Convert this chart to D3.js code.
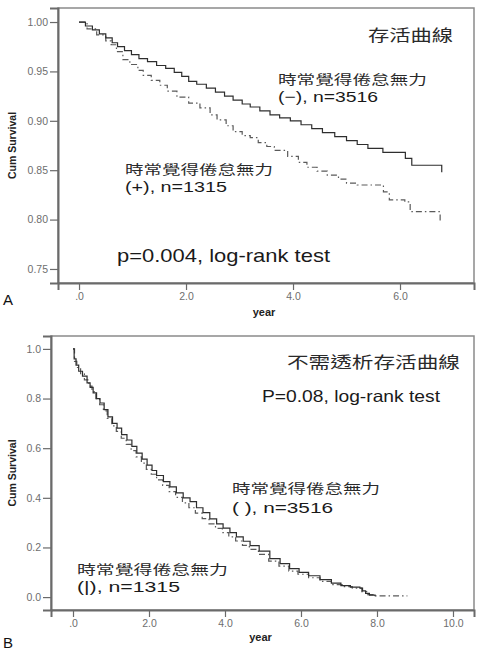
<!DOCTYPE html>
<html>
<head>
<meta charset="utf-8">
<script src="https://cdn.jsdelivr.net/npm/d3@7"></script>
<style>
body{margin:0;background:#fff;}
svg{display:block;}
</style>
</head>
<body>
<div id="chart"></div>
<script>
// 面板A：刻度
var aTickX=[0,2,4,6];
var aTickXLab=[".0","2.0","4.0","6.0"];
var aTickY=[0.75,0.80,0.85,0.90,0.95,1.00];
var aTickYLab=["0.75","0.80","0.85","0.90","0.95","1.00"];
// 面板A：(-) n=3516，[年, 累積存活]
var aNeg=[[0,1.000],[0.12,0.996],[0.25,0.992],[0.38,0.988],[0.50,0.984],[0.62,0.979],[0.72,0.975],
  [0.85,0.971],[0.98,0.967],[1.12,0.963],[1.28,0.960],[1.45,0.956],[1.62,0.953],[1.78,0.949],
  [1.92,0.945],[2.05,0.940],[2.20,0.937],[2.38,0.933],[2.55,0.929],[2.72,0.925],[2.88,0.921],
  [3.05,0.917],[3.20,0.914],[3.38,0.910],[3.57,0.906],[3.75,0.903],[3.95,0.900],[4.15,0.896],
  [4.35,0.892],[4.55,0.888],[4.78,0.884],[5.00,0.880],[5.20,0.876],[5.40,0.872],[5.68,0.868],
  [6.10,0.862],[6.22,0.855],[6.78,0.848]];
// 面板A：(+) n=1315
var aPos=[[0,1.000],[0.15,0.993],[0.33,0.987],[0.50,0.981],[0.60,0.977],[0.70,0.970],[0.82,0.962],
  [0.95,0.957],[1.10,0.951],[1.20,0.946],[1.35,0.941],[1.51,0.936],[1.65,0.930],[1.83,0.924],
  [2.05,0.918],[2.26,0.913],[2.45,0.906],[2.58,0.901],[2.75,0.895],[2.88,0.889],[3.05,0.885],
  [3.20,0.883],[3.35,0.878],[3.51,0.874],[3.65,0.870],[3.90,0.864],[4.10,0.858],[4.26,0.853],
  [4.45,0.849],[4.64,0.845],[4.85,0.841],[5.00,0.837],[5.20,0.835],[5.69,0.828],[5.80,0.820],
  [6.09,0.818],[6.19,0.808],[6.75,0.798]];

// 面板B：刻度
var bTickX=[0,2,4,6,8,10];
var bTickXLab=[".0","2.0","4.0","6.0","8.0","10.0"];
var bTickY=[0,0.2,0.4,0.6,0.8,1.0];
var bTickYLab=["0.0","0.2","0.4","0.6","0.8","1.0"];
// 面板B：不需透析 (-) n=3516
var bNeg=[[0,1.000],[0.03,0.960],[0.08,0.935],[0.15,0.910],[0.25,0.890],[0.37,0.863],[0.45,0.845],
  [0.53,0.823],[0.62,0.800],[0.71,0.782],[0.82,0.755],[0.92,0.726],[1.04,0.700],[1.16,0.681],
  [1.28,0.655],[1.42,0.633],[1.55,0.607],[1.68,0.580],[1.82,0.556],[1.95,0.532],[2.08,0.510],
  [2.20,0.490],[2.38,0.465],[2.55,0.444],[2.72,0.420],[2.90,0.400],[3.08,0.385],[3.25,0.360],
  [3.42,0.340],[3.60,0.315],[3.78,0.295],[3.95,0.278],[4.13,0.260],[4.30,0.243],[4.48,0.225],
  [4.66,0.207],[4.90,0.185],[5.18,0.155],[5.45,0.135],[5.70,0.115],[5.95,0.100],[6.20,0.086],
  [6.50,0.070],[6.80,0.056],[7.05,0.046],[7.30,0.040],[7.55,0.036],[7.62,0.025],[7.70,0.015],
  [7.80,0.008],[7.95,0.003]];
// 面板B：不需透析 (+) n=1315
var bPos=[[0,1.000],[0.04,0.950],[0.10,0.925],[0.20,0.900],[0.30,0.875],[0.42,0.850],[0.50,0.828],
  [0.60,0.800],[0.70,0.775],[0.80,0.750],[0.90,0.720],[1.02,0.690],[1.14,0.668],[1.27,0.640],
  [1.40,0.615],[1.53,0.590],[1.66,0.565],[1.80,0.540],[1.93,0.515],[2.06,0.495],[2.20,0.472],
  [2.36,0.450],[2.53,0.425],[2.70,0.402],[2.88,0.380],[3.05,0.360],[3.22,0.338],[3.40,0.316],
  [3.58,0.295],[3.75,0.277],[3.93,0.260],[4.10,0.243],[4.28,0.226],[4.46,0.208],[4.64,0.192],
  [4.88,0.172],[5.15,0.145],[5.42,0.125],[5.68,0.105],[5.92,0.092],[6.20,0.078],[6.50,0.063],
  [6.80,0.050],[7.10,0.042],[7.35,0.036],[7.60,0.022],[7.75,0.010],[7.90,0.005],[8.80,0.005]];

var W=486,H=655;
var latin='"Liberation Sans", Arial, sans-serif';
var cjk='"Noto Sans CJK TC", "Noto Sans CJK SC", serif';

var svg=d3.select("#chart").append("svg")
    .attr("width",W)
    .attr("height",H)
    .style("background","#fff");

/*画一个面板*/
function drawPanel(p){
    var x=d3.scaleLinear().domain(p.xDom).range([p.left,p.right]);
    var y=d3.scaleLinear().domain(p.yDom).range([p.bottom,p.top]);
    var g=svg.append("g");
    /*外框*/
    g.append("rect")
        .attr("x",p.left).attr("y",p.top)
        .attr("width",p.right-p.left).attr("height",p.bottom-p.top)
        .attr("fill","none").attr("stroke","#8a8a8a").attr("stroke-width",1.5);
    /*y轴*/
    var yAxis=d3.axisLeft(y)
        .tickValues(p.tickY)
        .tickFormat(function(d,i){return p.tickYLab[i];})
        .tickSize(8)
        .tickPadding(2);
    var gy=g.append("g").attr("transform","translate("+p.left+",0)").call(yAxis);
    /*x轴*/
    var xAxis=d3.axisBottom(x)
        .tickValues(p.tickX)
        .tickFormat(function(d,i){return p.tickXLab[i];})
        .tickSize(7)
        .tickPadding(3);
    var gx=g.append("g").attr("transform","translate(0,"+p.bottom+")").call(xAxis);
    [gy,gx].forEach(function(a){
        a.select(".domain").attr("stroke","#6a6a6a").attr("stroke-width",2);
        a.selectAll(".tick line").attr("stroke","#6a6a6a").attr("stroke-width",1.2);
        a.selectAll(".tick text").attr("fill","#6e6e6e")
            .style("font-family",latin).style("font-size","10.5px");
    });
    /*轴标题*/
    g.append("text")
        .attr("transform","translate(16,"+((p.top+p.bottom)/2)+") rotate(-90)")
        .attr("text-anchor","middle")
        .style("font-family",latin).style("font-size","10.5px").style("font-weight","bold")
        .attr("fill","#222")
        .text("Cum Survival");
    g.append("text")
        .attr("x",(p.left+p.right)/2-2).attr("y",p.yearY)
        .attr("text-anchor","middle")
        .style("font-family",latin).style("font-size","11px").style("font-weight","bold")
        .attr("fill","#222")
        .text("year");
    g.append("text")
        .attr("x",3).attr("y",p.tagY)
        .style("font-family",latin).style("font-size","15px")
        .attr("fill","#111")
        .text(p.tag);
    /*生存曲线*/
    var line=d3.line()
        .x(function(d){return x(d[0]);})
        .y(function(d){return y(d[1]);})
        .curve(d3.curveStepAfter);
    g.append("path").datum(p.dash)
        .attr("d",line).attr("fill","none")
        .attr("stroke","#5a5a5a").attr("stroke-width",1.2)
        .attr("stroke-dasharray","6,3,1.5,3");
    g.append("path").datum(p.solid)
        .attr("d",line).attr("fill","none")
        .attr("stroke","#2e2e2e").attr("stroke-width",1.2);
    /*注释文字*/
    p.notes.forEach(function(n){
        g.append("text")
            .attr("x",n.x).attr("y",n.y)
            .attr("textLength",n.w).attr("lengthAdjust","spacingAndGlyphs")
            .style("font-family",n.cjk?cjk:latin)
            .style("font-size",n.size+"px")
            .attr("fill",n.cjk?"#2a2a2a":"#1a1a1a")
            .text(n.t);
    });
}

drawPanel({
    left:58,right:474,top:8,bottom:283,
    xDom:[-0.393,7.383],yDom:[0.7358,1.0142],
    tickX:aTickX,tickXLab:aTickXLab,tickY:aTickY,tickYLab:aTickYLab,
    solid:aNeg,dash:aPos,
    yearY:316,tag:"A",tagY:305,
    notes:[
        {t:"存活曲線",x:368,y:41,w:85,size:16,cjk:true},
        {t:"時常覺得倦怠無力",x:278,y:84,w:149,size:13,cjk:true},
        {t:"(−), n=3516",x:278,y:102,w:100,size:15},
        {t:"時常覺得倦怠無力",x:125,y:174,w:148,size:13,cjk:true},
        {t:"(+), n=1315",x:125,y:192,w:102,size:15},
        {t:"p=0.004,  log-rank  test",x:117,y:262,w:213,size:18.5}
    ]
});

drawPanel({
    left:51,right:474,top:336,bottom:610,
    xDom:[-0.579,10.553],yDom:[-0.052,1.052],
    tickX:bTickX,tickXLab:bTickXLab,tickY:bTickY,tickYLab:bTickYLab,
    solid:bNeg,dash:bPos,
    yearY:641,tag:"B",tagY:648,
    notes:[
        {t:"不需透析存活曲線",x:287,y:368,w:173,size:16,cjk:true},
        {t:"P=0.08, log-rank test",x:262,y:402,w:178,size:16.5},
        {t:"時常覺得倦怠無力",x:232,y:493,w:148,size:13,cjk:true},
        {t:"(  ), n=3516",x:232,y:513,w:101,size:15},
        {t:"時常覺得倦怠無力",x:77,y:574,w:151,size:13,cjk:true},
        {t:"(|), n=1315",x:77,y:592,w:103,size:15}
    ]
});
</script>
</body>
</html>
